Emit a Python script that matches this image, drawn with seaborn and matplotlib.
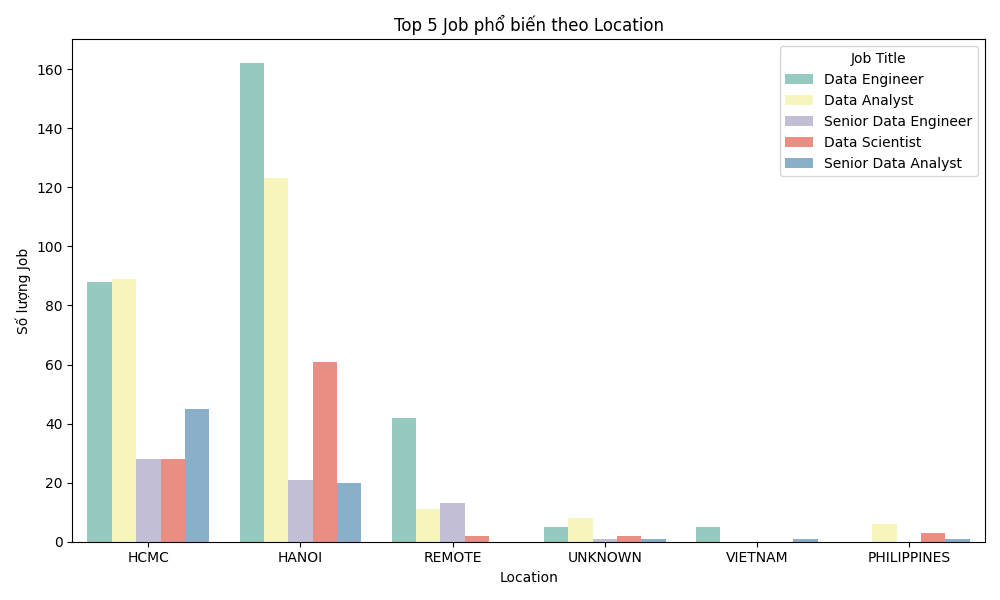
import matplotlib
matplotlib.use('Agg')
import matplotlib.pyplot as plt
import seaborn as sns
import pandas as pd

locations = ['HCMC', 'HANOI', 'REMOTE', 'UNKNOWN', 'VIETNAM', 'PHILIPPINES']
job_titles = ['Data Engineer', 'Data Analyst', 'Senior Data Engineer',
              'Data Scientist', 'Senior Data Analyst']

# counts per location, in the order of job_titles (0 = no job)
hcmc = [88, 89, 28, 28, 45]
hanoi = [162, 123, 21, 61, 20]
remote = [42, 11, 13, 2, 0]
unknown = [5, 8, 1, 2, 1]
vietnam = [5, 0, 0, 0, 1]
philippines = [0, 6, 0, 3, 1]

rows = []
for loc, vals in zip(locations, [hcmc, hanoi, remote, unknown, vietnam, philippines]):
    for job, v in zip(job_titles, vals):
        rows.append({'Location': loc, 'Job Title': job, 'count': v})
df = pd.DataFrame(rows)

plt.figure(figsize=(10, 6))
sns.barplot(data=df, x='Location', y='count', hue='Job Title',
            order=locations, hue_order=job_titles, palette='Set3')
plt.title('Top 5 Job phổ biến theo Location')
plt.xlabel('Location')
plt.ylabel('Số lượng Job')
plt.legend(title='Job Title', loc='upper right')
plt.tight_layout()
plt.savefig('out.png', dpi=100)
plt.close()
